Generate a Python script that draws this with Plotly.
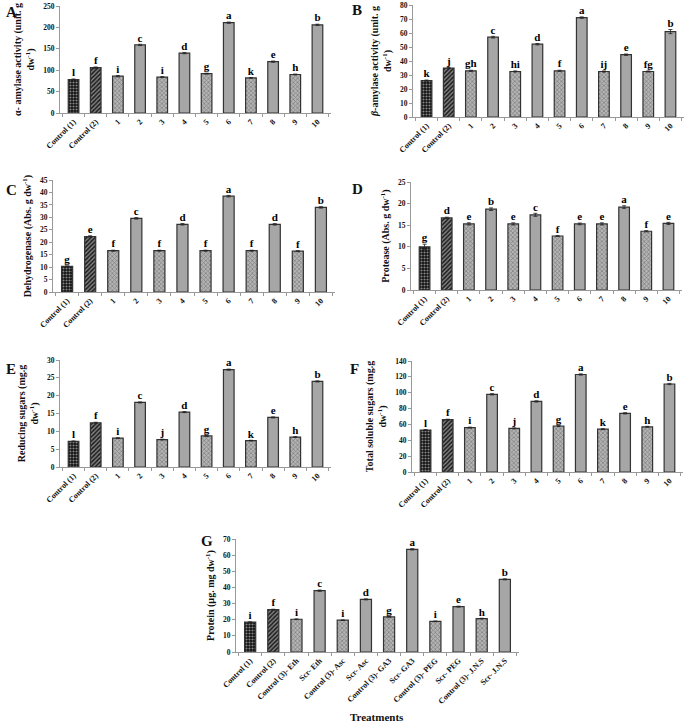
import plotly.graph_objects as go

cats = ["Control (1)", "Control (2)", "1", "2", "3", "4", "5", "6", "7", "8", "9", "10"]
cats_g = ["Control (1)", "Control (2)", "Control (3)- Eth", "Scr- Eth", "Control (3)- Asc", "Scr- Asc",
          "Control (3)- GA3", "Scr- GA3", "Control (3)- PEG", "Scr- PEG", "Control (3)- J.N.S", "Scr- J.N.S"]

alpha_amylase = [78, 106, 86, 159, 84, 140, 92, 211, 82, 120, 90, 206]
alpha_err = [1.5, 1.5, 1.5, 1.5, 1.0, 1.5, 1.0, 1.5, 1.0, 1.5, 1.0, 1.5]
alpha_letters = ["l", "f", "i", "c", "i", "d", "g", "a", "k", "e", "h", "b"]

beta_amylase = [26, 35, 33, 57, 32.5, 52, 33, 71, 32.5, 44.5, 32.5, 61]
beta_err = [0.4, 0.4, 0.4, 0.6, 0.4, 0.5, 0.4, 0.5, 0.4, 0.5, 0.4, 1.5]
beta_letters = ["k", "j", "gh", "c", "hi", "d", "f", "a", "ij", "e", "fg", "b"]

dehydrogenase = [10.3, 22.3, 16.6, 29.6, 16.6, 27.2, 16.6, 38.5, 16.6, 27.2, 16.4, 34.0]
dehyd_err = [0.2, 0.3, 0.2, 0.3, 0.2, 0.3, 0.2, 0.3, 0.2, 0.3, 0.2, 0.3]
dehyd_letters = ["g", "e", "f", "c", "f", "d", "f", "a", "f", "d", "f", "b"]

protease = [10.0, 16.7, 15.3, 18.7, 15.3, 17.4, 12.5, 15.3, 15.3, 19.2, 13.6, 15.4]
protease_err = [0.6, 0.15, 0.25, 0.3, 0.25, 0.35, 0.1, 0.2, 0.25, 0.3, 0.15, 0.25]
protease_letters = ["g", "d", "e", "b", "e", "c", "f", "e", "e", "a", "f", "e"]

reducing = [7.2, 12.4, 8.1, 18.1, 7.7, 15.4, 8.7, 27.3, 7.4, 13.9, 8.4, 24.0]
reducing_err = [0.1, 0.15, 0.1, 0.15, 0.1, 0.15, 0.1, 0.15, 0.1, 0.15, 0.1, 0.15]
reducing_letters = ["l", "f", "i", "c", "j", "d", "g", "a", "k", "e", "h", "b"]

soluble = [53, 66, 56, 98, 55, 89, 58, 123, 54, 74, 57, 111]
soluble_err = [0.6, 0.6, 0.6, 0.8, 0.6, 0.8, 0.6, 0.8, 0.6, 0.8, 0.6, 0.8]
soluble_letters = ["l", "f", "i", "c", "j", "d", "g", "a", "k", "e", "h", "b"]

protein = [18.5, 26.2, 20.3, 38.0, 19.7, 32.6, 21.8, 63.6, 19.0, 28.1, 20.7, 45.0]
protein_err = [0.2, 0.3, 0.2, 0.4, 0.2, 0.3, 0.2, 0.4, 0.2, 0.3, 0.2, 0.3]
protein_letters = ["i", "f", "i", "c", "i", "d", "g", "a", "i", "e", "h", "b"]

W, H = 685, 725
FONT = "Liberation Serif"

panels = [
    (cats, alpha_amylase, alpha_err, alpha_letters, "<b>α- amylase activity (unit. g<br>dw<sup>-1</sup>)</b>",
     250, 50, (60, 331), (6, 113), "A", (4, 12)),
    (cats, beta_amylase, beta_err, beta_letters, "<b><i>β</i>-amylase activity (unit. g<br>dw<sup>-1</sup>)</b>",
     80, 10, (413, 684), (5, 117), "B", (350, 10)),
    (cats, dehydrogenase, dehyd_err, dehyd_letters, "<b>Dehydrogenase (Abs. g dw<sup>-1</sup>)</b>",
     45, 5, (53, 335), (180, 292), "C", (4, 190)),
    (cats, protease, protease_err, protease_letters, "<b>Protease (Abs. g dw<sup>-1</sup>)</b>",
     25, 5, (411, 682), (182, 290), "D", (350, 189)),
    (cats, reducing, reducing_err, reducing_letters, "<b>Reducing sugars (mg.g<br>dw<sup>-1</sup>)</b>",
     30, 5, (60, 331), (360, 467), "E", (4, 369)),
    (cats, soluble, soluble_err, soluble_letters, "<b>Total soluble sugars (mg.g<br>dw<sup>-1</sup>)</b>",
     140, 20, (412, 683), (361, 472), "F", (348, 369)),
    (cats_g, protein, protein_err, protein_letters, "<b>Protein (µg. mg dw<sup>-1</sup>)</b>",
     70, 10, (236, 519), (539, 652), "G", (199, 541)),
]

shapes_pat = [".", "/", "x", "", "x", "", "x", "", "x", "", "x", ""]
fg = ["#8a8a8a", "#222222", "#b4b4b4", "#a6a6a6", "#b4b4b4", "#a6a6a6", "#b4b4b4", "#a6a6a6",
      "#b4b4b4", "#a6a6a6", "#b4b4b4", "#a6a6a6"]
bg = ["#111111", "#ffffff", "#f2f2f2", "#a6a6a6", "#f2f2f2", "#a6a6a6", "#f2f2f2", "#a6a6a6",
      "#f2f2f2", "#a6a6a6", "#f2f2f2", "#a6a6a6"]
colors = ["#111111", "#222222", "#b4b4b4", "#a6a6a6", "#b4b4b4", "#a6a6a6", "#b4b4b4", "#a6a6a6",
          "#b4b4b4", "#a6a6a6", "#b4b4b4", "#a6a6a6"]

fig = go.Figure()
layout = {}
annotations = []
for i, (xc, vals, errs, lets, ytitle, ymax, dt, xd, yd, lab, lpos) in enumerate(panels):
    n = "" if i == 0 else str(i + 1)
    xa, ya = "x" + n, "y" + n
    fig.add_trace(go.Bar(
        x=xc, y=vals, xaxis=xa, yaxis=ya, width=0.48,
        marker=dict(color=colors, line=dict(color="#333333", width=1.2),
                    pattern=dict(shape=shapes_pat, fgcolor=fg, bgcolor=bg, size=3, solidity=0.4)),
        error_y=dict(type="data", array=errs, color="#222", thickness=0.8, width=2),
        showlegend=False, hoverinfo="skip"))
    fig.add_trace(go.Scatter(
        x=xc, y=[v + e for v, e in zip(vals, errs)], xaxis=xa, yaxis=ya, mode="text",
        text=["<b>" + t + "</b>" for t in lets],
        textposition="top center", textfont=dict(family=FONT, size=11, color="#000000"),
        showlegend=False, hoverinfo="skip", cliponaxis=False))
    layout["xaxis" + n] = dict(
        domain=[xd[0] / W, xd[1] / W], anchor=ya, type="category", showline=True, linecolor="#999",
        linewidth=1, ticks="outside", tickson="boundaries", ticklen=3, tickcolor="#999",
        tickangle=-45, tickfont=dict(family=FONT, size=8, color="#111", weight="bold"),
        showgrid=False, fixedrange=True, automargin=False)
    layout["yaxis" + n] = dict(
        domain=[1 - yd[1] / H, 1 - yd[0] / H], anchor=xa, range=[0, ymax], dtick=dt, showline=True,
        linecolor="#999", linewidth=1, ticks="outside", ticklen=3, tickcolor="#999",
        tickfont=dict(family=FONT, size=7.5, color="#111", weight="bold"), showgrid=False,
        zeroline=False, tickformat="d", automargin=False, fixedrange=True,
        title=dict(text=ytitle, font=dict(family=FONT, size=10, color="#111"), standoff=6))
    annotations.append(dict(text="<b>" + lab + "</b>", x=lpos[0] / W, y=1 - lpos[1] / H, xref="paper",
                            yref="paper", xanchor="left", yanchor="middle", showarrow=False,
                            font=dict(family=FONT, size=15, color="#111")))

annotations.append(dict(text="<b>Treatments</b>", x=377 / W, y=1 - 717 / H, xref="paper", yref="paper",
                        xanchor="center", yanchor="middle", showarrow=False,
                        font=dict(family=FONT, size=11, color="#111")))

fig.update_layout(width=W, height=H, margin=dict(l=0, r=0, t=0, b=0, autoexpand=False),
                  plot_bgcolor="white", paper_bgcolor="white", annotations=annotations, bargap=0.5,
                  **layout)
fig.write_html("out.html", config={"displayModeBar": False},
               post_script="document.body.style.margin='0px';document.body.style.overflow='hidden';")
